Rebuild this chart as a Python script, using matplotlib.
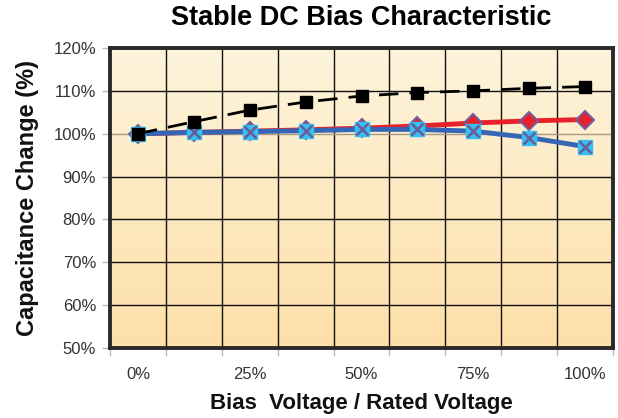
import numpy as np
import matplotlib
matplotlib.use("Agg")
import matplotlib.pyplot as plt
from matplotlib.colors import LinearSegmentedColormap

plt.rcParams['font.family'] = ['Liberation Sans', 'DejaVu Sans']

# Data
x_labels = ["0%", "12.5%", "25%", "37.5%", "50%", "62.5%", "75%", "87.5%", "100%"]
black_series = [100.0, 102.8, 105.5, 107.4, 108.8, 109.6, 110.0, 110.6, 111.0]
red_series = [100.0, 100.3, 100.6, 100.9, 101.3, 101.8, 102.5, 103.0, 103.3]
blue_series = [100.0, 100.3, 100.5, 100.7, 101.0, 101.0, 100.6, 99.1, 97.0]
y_ticks = [50, 60, 70, 80, 90, 100, 110, 120]

fig = plt.figure(figsize=(6.18, 4.18), dpi=100)
ax = fig.add_axes([110/618, 1-348/418, 503/618, 300/418])

x = np.arange(len(x_labels))
ax.set_xlim(-0.5, len(x_labels) - 0.5)
ax.set_ylim(50, 120)

# gradient background
cmap = LinearSegmentedColormap.from_list("bg", ["#fddfa8", "#fef4dc"])
grad = np.linspace(0, 1, 256).reshape(-1, 1)
ax.imshow(grad, cmap=cmap, aspect='auto', origin='lower',
          extent=[-0.5, len(x_labels) - 0.5, 50, 120], zorder=0)

# grid
for b in np.arange(-0.5, len(x_labels), 1.0)[1:]:
    ax.axvline(b, color='#111111', lw=1.0, zorder=1)
for yv in y_ticks[1:-1]:
    ax.axhline(yv, color='#a89a80' if yv == 100 else '#111111', lw=1.0, zorder=1)

# series
ax.plot(x, black_series, color='black', lw=2.0, ls=(0, (7, 4)), marker='s',
        markersize=8, markerfacecolor='black', markeredgecolor='black', zorder=5)
ax.plot(x, red_series, color='#e8202a', lw=3.5, marker='D', markersize=9,
        markerfacecolor='#e8202a', markeredgecolor='#6f5f9f', markeredgewidth=1.5, zorder=3)
ax.plot(x, blue_series, color='#3566b5', lw=3.5, zorder=4)
ax.plot(x, blue_series, ls='none', marker='s', markersize=10,
        markerfacecolor='#35c0f0', markeredgecolor='#35c0f0', zorder=4.5)
ax.plot(x, blue_series, ls='none', marker='x', markersize=9, markeredgewidth=1.8,
        color='#6a5a9c', zorder=4.6)

# ticks
ax.set_xticks(x[::2])
ax.set_xticklabels(x_labels[::2])
ax.set_xticks(np.arange(-0.5, len(x_labels), 1.0), minor=True)
ax.tick_params(axis='x', which='major', length=0, pad=14, labelsize=12, labelcolor='#333333')
ax.tick_params(axis='x', which='minor', length=6, color='#bbbbbb', width=1)
ax.set_yticks(y_ticks)
ax.set_yticklabels([f"{v}%" for v in y_ticks])
ax.tick_params(axis='y', length=6, color='#bbbbbb', width=1, pad=4, labelsize=12, labelcolor='#333333')

for s in ax.spines.values():
    s.set_linewidth(2.8)
    s.set_color('#2a2a2a')
    s.set_zorder(6)

fig.text(361, 418 - 18, "Stable DC Bias Characteristic", fontsize=19.5, fontweight='bold',
         ha='center', va='center', transform=None)
fig.text(361, 418 - 403, "Bias  Voltage / Rated Voltage", fontsize=16, fontweight='bold',
         ha='center', va='center', color='#111111', transform=None)
fig.text(28, 418 - 198, "Capacitance Change (%)", fontsize=17, fontweight='bold',
         ha='center', va='center', rotation=90, color='#111111', transform=None)

fig.savefig("out.png", dpi=100)
